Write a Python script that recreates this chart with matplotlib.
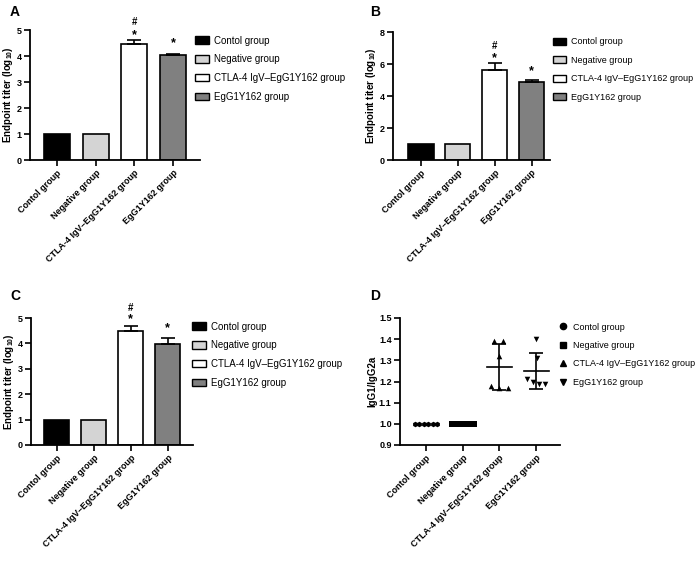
import matplotlib
matplotlib.use("Agg")
import matplotlib.pyplot as plt
import numpy as np
from matplotlib.patches import Patch
from matplotlib.lines import Line2D

plt.rcParams['font.family'] = ['Liberation Sans', 'DejaVu Sans']
plt.rcParams['mathtext.fontset'] = 'custom'
plt.rcParams['mathtext.rm'] = 'Liberation Sans'
plt.rcParams['mathtext.bf'] = 'Liberation Sans:bold'

groups = ["Contol group", "Negative group", "CTLA-4 IgV\u2013EgG1Y162 group", "EgG1Y162 group"]
bar_colors = ["#000000", "#d4d4d4", "#ffffff", "#808080"]

# Panel A
a_mean = [1.0, 1.0, 4.45, 4.02]
a_err = [0.0, 0.0, 0.16, 0.07]
# Panel B
b_mean = [1.0, 1.0, 5.65, 4.90]
b_err = [0.0, 0.0, 0.42, 0.12]
# Panel C
c_mean = [1.0, 1.0, 4.47, 3.98]
c_err = [0.0, 0.0, 0.20, 0.22]
# Panel D (IgG1/IgG2a per mouse)
d_control = [1.0, 1.0, 1.0, 1.0, 1.0, 1.0]
d_negative = [1.0, 1.0, 1.0, 1.0, 1.0, 1.0]
d_ctla = [1.39, 1.39, 1.32, 1.18, 1.17, 1.17]
d_eg = [1.40, 1.31, 1.21, 1.20, 1.19, 1.19]

W, H = 700, 563
fig = plt.figure(figsize=(7.0, 5.63), dpi=100)

def rect(l, r, t, b):
    return [l / W, 1 - b / H, (r - l) / W, (b - t) / H]

tick_fs = 6.5
ylab = r'Endpoint titer (log$_{\mathbf{10}}$)'

def style_axes(ax):
    for s in ['top', 'right']:
        ax.spines[s].set_visible(False)
    for s in ['left', 'bottom']:
        ax.spines[s].set_linewidth(1.3)
    ax.tick_params(axis='both', direction='out', width=1.2, length=4, pad=2, labelsize=tick_fs)
    for lab in ax.get_yticklabels():
        lab.set_fontweight('bold')
    ax.set_xticks(range(len(groups)))
    ax.set_xticklabels(groups, rotation=45, ha='right', rotation_mode='anchor',
                       fontsize=tick_fs, fontweight='bold')

def bar_panel(pos, means, errs, ymax, yticks, xlim, legend_xy, leg_fs, leg_ls,
              letter_xy, letter, marks):
    ax = fig.add_axes(rect(*pos))
    x = np.arange(len(means))
    ax.bar(x, means, width=0.68, color=bar_colors, edgecolor='black', linewidth=1.2, zorder=2)
    for i in range(len(means)):
        if errs[i] > 0:
            ax.errorbar(x[i], means[i], yerr=[[0], [errs[i]]], fmt='none', ecolor='black',
                        elinewidth=1.2, capsize=5, capthick=1.2, zorder=3)
    ax.set_ylim(0, ymax)
    ax.set_yticks(yticks)
    ax.set_xlim(*xlim)
    style_axes(ax)
    ax.set_ylabel(ylab, fontsize=7, fontweight='bold', labelpad=1)
    for (i, txt, off) in marks:
        ax.text(x[i], means[i] + errs[i] + off, txt, ha='center', va='center',
                fontsize=9 if txt == '*' else 7, fontweight='bold', clip_on=False)
    handles = [Patch(facecolor=c, edgecolor='black', linewidth=1.0) for c in bar_colors]
    fig.legend(handles, groups, loc='upper left', bbox_to_anchor=(legend_xy[0] / W, 1 - legend_xy[1] / H),
               frameon=False, fontsize=leg_fs, handlelength=1.4, handleheight=0.8,
               handletextpad=0.55, labelspacing=leg_ls, borderaxespad=0, borderpad=0)
    fig.text(letter_xy[0] / W, 1 - letter_xy[1] / H, letter, fontsize=10, fontweight='bold',
             ha='left', va='center')
    return ax

bar_panel((30, 200, 30, 160), a_mean, a_err, 5, [0, 1, 2, 3, 4, 5], (-0.7, 3.7),
          (195, 35.5), 7, 0.9, (10, 12), 'A',
          [(2, '*', 0.2), (2, '#', 0.7), (3, '*', 0.4)])
bar_panel((393, 550, 32, 160), b_mean, b_err, 8, [0, 2, 4, 6, 8], (-0.76, 3.5),
          (553, 37.5), 6.5, 1.05, (370, 12), 'B',
          [(2, '*', 0.32), (2, '#', 1.08), (3, '*', 0.55)])
bar_panel((31, 193, 318, 445), c_mean, c_err, 5, [0, 1, 2, 3, 4, 5], (-0.7, 3.68),
          (192, 321.5), 7, 0.9, (10, 296), 'C',
          [(2, '*', 0.28), (2, '#', 0.74), (3, '*', 0.38)])

# Panel D
axd = fig.add_axes(rect(400, 560, 318, 445))
d_sets = [d_control, d_negative, d_ctla, d_eg]
d_markers = ['h', 's', '^', 'v']
spreads = [
    [-0.3, -0.18, -0.06, 0.06, 0.18, 0.3],
    [-0.3, -0.18, -0.06, 0.06, 0.18, 0.3],
    [-0.14, 0.1, 0.0, -0.22, 0.0, 0.22],
    [0.0, 0.02, -0.25, -0.08, 0.08, 0.24],
]
for i, (vals, m, sp) in enumerate(zip(d_sets, d_markers, spreads)):
    xs = i + np.array(sp)
    axd.scatter(xs, vals, marker=m, s=16, color='black', zorder=3, linewidths=0)
    mu = np.mean(vals)
    sd = np.std(vals, ddof=1)
    if sd > 0:
        axd.plot([i - 0.34, i + 0.34], [mu, mu], color='black', lw=1.2, zorder=2)
        axd.errorbar(i, mu, yerr=sd, fmt='none', ecolor='black', elinewidth=1.2,
                     capsize=5, capthick=1.2, zorder=2)
axd.set_ylim(0.9, 1.5)
axd.set_yticks([0.9, 1.0, 1.1, 1.2, 1.3, 1.4, 1.5])
axd.set_yticklabels(['0.9', '1.0', '1.1', '1.2', '1.3', '1.4', '1.5'])
axd.set_xlim(-0.71, 3.65)
style_axes(axd)
axd.set_ylabel('IgG1/IgG2a', fontsize=7, fontweight='bold', labelpad=1)
d_handles = [Line2D([], [], marker=m, color='black', linestyle='none', markersize=4.5)
             for m in ['o', 's', '^', 'v']]
fig.legend(d_handles, groups, loc='upper left', bbox_to_anchor=(557 / W, 1 - 322.5 / H),
           frameon=False, fontsize=6.5, handlelength=1.3, handletextpad=0.45,
           labelspacing=1.05, borderaxespad=0, borderpad=0)
fig.text(370 / W, 1 - 296 / H, 'D', fontsize=10, fontweight='bold', ha='left', va='center')

fig.savefig('out.png', dpi=100, facecolor='white')
